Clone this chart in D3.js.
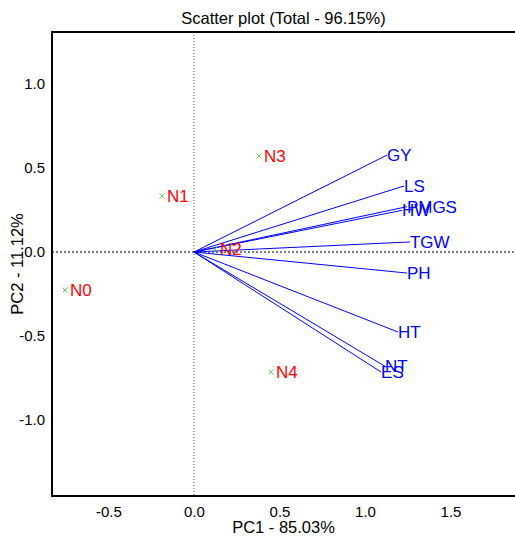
<!DOCTYPE html>
<html>
<head>
<meta charset="utf-8">
<script src="https://cdn.jsdelivr.net/npm/d3@7"></script>
<style>
  body { margin: 0; background: #fff; }
  svg { display: block; font-family: Arial, 'Liberation Sans', sans-serif; }
</style>
</head>
<body>
<svg id="chart" width="515" height="538"></svg>
<script>
// observations (scores)
const obsNames = ['N0', 'N1', 'N2', 'N3', 'N4'];
const obsPC1 = [-0.754, -0.187, 0.123, 0.380, 0.450];
const obsPC2 = [-0.226, 0.333, 0.018, 0.571, -0.714];

// variables (loadings)
const varNames = ['GY', 'LS', 'HW', 'PMGS', 'TGW', 'PH', 'HT', 'NT', 'ES'];
const varPC1 = [1.129, 1.228, 1.216, 1.245, 1.263, 1.245, 1.193, 1.117, 1.094];
const varPC2 = [0.577, 0.393, 0.248, 0.270, 0.060, -0.125, -0.476, -0.680, -0.714];

const xTicks = [-0.5, 0.0, 0.5, 1.0, 1.5];
const yTicks = [-1.0, -0.5, 0.0, 0.5, 1.0];

const title = 'Scatter plot (Total - 96.15%)';
const xTitle = 'PC1 - 85.03%';
const yTitle = 'PC2 - 11.12%';

const svg = d3.select('#chart');
const pLeft = 52, pTop = 32, pRight = 516, pBottom = 496;

let x = d3.scaleLinear().domain([-0.830, 1.883]).range([pLeft, pRight]);
let y = d3.scaleLinear().domain([-1.452, 1.3095]).range([pBottom, pTop]);

// title
svg.append('text')
  .attr('x', (pLeft + 515) / 2)
  .attr('y', 24)
  .attr('text-anchor', 'middle')
  .style('font-size', '16.5px')
  .text(title);

// zero lines
svg.append('line')
  .attr('x1', x(0)).attr('x2', x(0))
  .attr('y1', pTop).attr('y2', pBottom)
  .attr('stroke', '#555').attr('stroke-dasharray', '1,2');
svg.append('line')
  .attr('x1', pLeft).attr('x2', pRight)
  .attr('y1', y(0)).attr('y2', y(0))
  .attr('stroke', '#000').attr('stroke-dasharray', '2,2');

// frame
svg.append('rect')
  .attr('x', pLeft).attr('y', pTop)
  .attr('width', pRight - pLeft + 4).attr('height', pBottom - pTop)
  .attr('fill', 'none').attr('stroke', '#000').attr('stroke-width', 2);

// ticks
let fmt = (d) => d3.format('.1f')(d).replace('−', '-');
let xAxis = d3.axisBottom(x).tickValues(xTicks).tickSize(0).tickPadding(10).tickFormat(fmt);
let yAxis = d3.axisLeft(y).tickValues(yTicks).tickSize(0).tickPadding(7).tickFormat(fmt);

let gx = svg.append('g').attr('transform', `translate(0,${pBottom})`).call(xAxis);
let gy = svg.append('g').attr('transform', `translate(${pLeft},0)`).call(yAxis);
[gx, gy].forEach((g) => {
  g.select('.domain').remove();
  g.selectAll('text')
    .style('font-size', '15px')
    .style('font-family', 'Arial, Liberation Sans, sans-serif')
    .attr('fill', '#000');
});

// axis titles
svg.append('text')
  .attr('x', (pLeft + 515) / 2)
  .attr('y', 533)
  .attr('text-anchor', 'middle')
  .style('font-size', '16.5px')
  .text(xTitle);
svg.append('text')
  .attr('transform', `translate(23,${(pTop + pBottom) / 2}) rotate(-90)`)
  .attr('text-anchor', 'middle')
  .style('font-size', '16.5px')
  .text(yTitle);

// vectors
let vars = varNames.map((n, i) => ({ name: n, pc1: varPC1[i], pc2: varPC2[i] }));
svg.append('g').selectAll('line')
  .data(vars)
  .enter().append('line')
  .attr('x1', x(0)).attr('y1', y(0))
  .attr('x2', (d) => x(d.pc1)).attr('y2', (d) => y(d.pc2))
  .attr('stroke', '#0000ff').attr('stroke-width', 1);

svg.append('g').selectAll('text')
  .data(vars)
  .enter().append('text')
  .attr('x', (d) => x(d.pc1))
  .attr('y', (d) => y(d.pc2))
  .attr('dy', '0.36em')
  .attr('fill', '#0000ff')
  .style('font-size', '17px')
  .text((d) => d.name);

// observations
let obs = obsNames.map((n, i) => ({ name: n, pc1: obsPC1[i], pc2: obsPC2[i] }));
let pts = svg.append('g').selectAll('g')
  .data(obs)
  .enter().append('g')
  .attr('transform', (d) => `translate(${x(d.pc1)},${y(d.pc2)})`);

pts.append('path')
  .attr('d', 'M-2.5,-2.5L2.5,2.5M-2.5,2.5L2.5,-2.5')
  .attr('stroke', '#55cc55').attr('stroke-width', 0.9);

pts.append('text')
  .attr('x', 5)
  .attr('dy', '0.36em')
  .attr('fill', '#ff0000')
  .style('font-size', '17px')
  .text((d) => d.name);
</script>
</body>
</html>
